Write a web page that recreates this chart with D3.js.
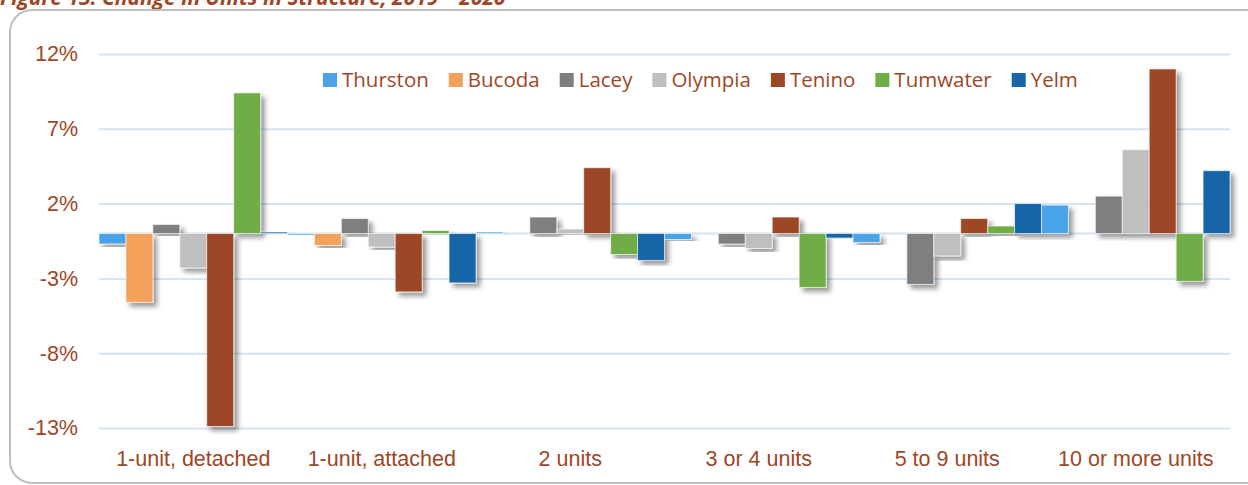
<!DOCTYPE html>
<html>
<head>
<meta charset="utf-8">
<script src="https://cdn.jsdelivr.net/npm/d3@7"></script>
<style>
  body { margin: 0; background: #fff; }
  svg { display: block; font-family: "Open Sans", sans-serif; }
</style>
</head>
<body>
<div id="chart"></div>
<script>
// categories and series
const categories = ["1-unit, detached", "1-unit, attached", "2 units", "3 or 4 units", "5 to 9 units", "10 or more units"];
const seriesNames = ["Thurston", "Bucoda", "Lacey", "Olympia", "Tenino", "Tumwater", "Yelm"];
const thurston = [-0.7, -0.1, 0.1, -0.4, -0.6, 1.9];
const bucoda = [-4.6, -0.8, 0, 0, 0, 0];
const lacey = [0.6, 1.0, 1.1, -0.7, -3.4, 2.5];
const olympia = [-2.3, -0.9, 0.3, -1.0, -1.5, 5.6];
const tenino = [-12.9, -3.9, 4.4, 1.1, 1.0, 11.0];
const tumwater = [9.4, 0.2, -1.4, -3.6, 0.5, -3.2];
const yelm = [0.1, -3.3, -1.8, -0.3, 2.0, 4.2];
const tickValues = [12, 7, 2, -3, -8, -13];
const colors = ["#4AA3E8", "#F4A15B", "#7F7F7F", "#BFBFBF", "#9D4727", "#70AD47", "#1565A7"];

const seriesValues = [thurston, bucoda, lacey, olympia, tenino, tumwater, yelm];
const data = categories.map((c, i) => ({
  group: c,
  values: seriesNames.map((s, j) => ({ key: s, value: seriesValues[j][i] }))
}));

const W = 1248, H = 485;
const margin = { top: 54, right: 18, bottom: 57, left: 99 };
const width = W - margin.left - margin.right,
  height = H - margin.top - margin.bottom;

const textColor = "#9D4727";
const gridColor = "#D6E3F3";

const svgRoot = d3.select("#chart").append("svg")
  .attr("width", W)
  .attr("height", H);

// drop shadow like the office chart
const defs = svgRoot.append("defs");
defs.append("filter")
  .attr("id", "shadow")
  .attr("x", "-30%").attr("y", "-10%")
  .attr("width", "180%").attr("height", "130%")
  .append("feDropShadow")
  .attr("dx", 4).attr("dy", 4)
  .attr("stdDeviation", 2.5)
  .attr("flood-color", "#000")
  .attr("flood-opacity", 0.4);

// title (cut off at the top edge, as in the source page)
svgRoot.append("text")
  .attr("x", 0)
  .attr("y", 5)
  .attr("fill", textColor)
  .style("font-size", "21px")
  .style("font-weight", "bold")
  .style("font-style", "italic")
  .text("Figure 13: Change in Units in Structure, 2019 \u2013 2020");

// outer frame
svgRoot.append("rect")
  .attr("x", 10).attr("y", 10)
  .attr("width", 1260).attr("height", 473)
  .attr("rx", 22).attr("ry", 22)
  .attr("fill", "none")
  .attr("stroke", "#BFBFBF")
  .attr("stroke-width", 2);

const svg = svgRoot.append("g")
  .attr("transform", `translate(${margin.left},${margin.top})`);

const x = d3.scaleBand().domain(categories).range([0, width]).padding(0);
const xSub = d3.scaleBand().domain(seriesNames).range([0, x.bandwidth()]).padding(0);
const y = d3.scaleLinear().domain([-13, 12]).range([height, 0]);
const color = d3.scaleOrdinal().domain(seriesNames).range(colors);

// gridlines + y labels
const yAxis = svg.append("g")
  .call(d3.axisLeft(y).tickValues(tickValues).tickSize(-width).tickFormat(d => d + "%").tickPadding(21));
yAxis.select(".domain").remove();
yAxis.selectAll(".tick line").attr("stroke", gridColor).attr("stroke-width", 2);
yAxis.selectAll(".tick text")
  .attr("fill", textColor)
  .style("font-size", "21.5px");

// zero line
svg.append("line")
  .attr("x1", 0).attr("x2", width)
  .attr("y1", y(0)).attr("y2", y(0))
  .attr("stroke", gridColor)
  .attr("stroke-width", 2);

// bars
svg.append("g")
  .selectAll("g")
  .data(data)
  .join("g")
  .attr("transform", d => `translate(${x(d.group)},0)`)
  .selectAll("rect")
  .data(d => d.values)
  .join("rect")
  .attr("x", d => xSub(d.key))
  .attr("y", d => y(Math.max(0, d.value)))
  .attr("width", xSub.bandwidth())
  .attr("height", d => Math.abs(y(d.value) - y(0)))
  .attr("fill", d => color(d.key))
  .attr("stroke", "#fff")
  .attr("stroke-opacity", 0.6)
  .attr("stroke-width", 1)
  .attr("filter", "url(#shadow)");

// category labels
const xAxis = svg.append("g")
  .attr("transform", `translate(0,${height})`)
  .call(d3.axisBottom(x).tickSize(0).tickPadding(23));
xAxis.select(".domain").remove();
xAxis.selectAll(".tick text")
  .attr("fill", textColor)
  .style("font-size", "21.5px");

// legend
const legend = svgRoot.append("g").attr("transform", "translate(323,80)");
let lx = 0;
seriesNames.forEach(name => {
  const item = legend.append("g").attr("transform", `translate(${lx},0)`);
  item.append("rect")
    .attr("x", 0).attr("y", -7)
    .attr("width", 14).attr("height", 14)
    .attr("fill", color(name));
  const t = item.append("text")
    .attr("x", 19).attr("y", 0)
    .attr("dy", "0.35em")
    .attr("fill", textColor)
    .style("font-size", "20.5px")
    .text(name);
  lx += 19 + t.node().getComputedTextLength() + 20;
});
</script>
</body>
</html>
